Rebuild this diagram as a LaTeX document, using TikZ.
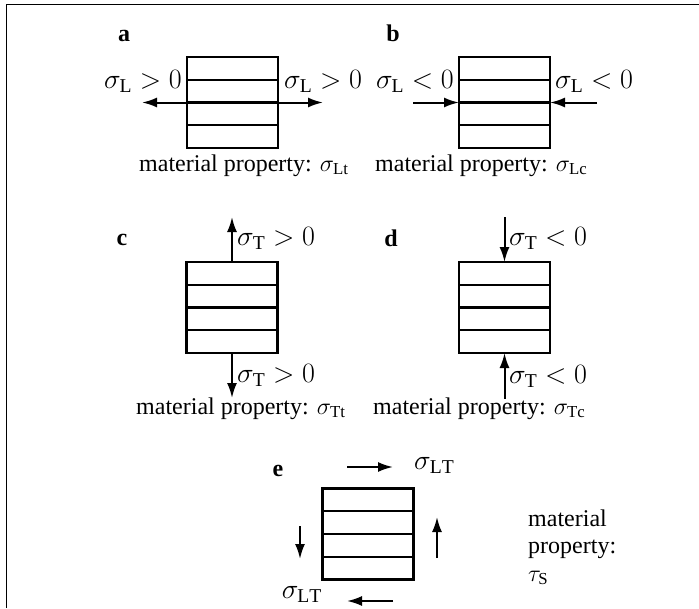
\RequirePackage{fix-cm}
\documentclass[tikz,border=0pt]{standalone}
\usepackage{fontspec}
\setmainfont{Liberation Serif}
\usetikzlibrary{arrows.meta,calc}

\tikzset{
	layers/.style = {draw, line width = 2.2pt, minimum width = 91pt, minimum height = 91pt, inner sep = 0pt, outer sep = 0pt},
	rule/.style = {line width = 2.2pt},
	load/.style = {line width = 2pt},
	>={Latex[length = 15pt, width = 10pt]},
	tag/.style = {font = \fontsize{24}{28}\selectfont\bfseries, inner sep = 0pt},
	txt/.style = {font = \fontsize{24}{28}\selectfont, inner sep = 0pt},
	lbl/.style = {font = \fontsize{28}{32}\selectfont, inner sep = 0pt},
}

\begin{document}
\begin{tikzpicture} [x = 1pt, y = -1pt]
	\useasboundingbox (0,0) rectangle (699,608);
	\draw [line width = 1pt] (6,608) -- (6,4) -- (699,4);
	% the five laminates
	\node [layers] (boxa) at (232.5,102.5) {};
	\node [layers] (boxb) at (504.5,102.5) {};
	\node [layers] (boxc) at (232,307.5) {};
	\node [layers] (boxd) at (504.5,307.5) {};
	\node [layers] (boxe) at (368,534) {};
	\foreach \b in {boxa,boxb,boxc,boxd,boxe}
		\foreach \f in {0.25,0.5,0.75}
			\draw [rule] ($(\b.north west)!\f!(\b.south west)$) -- ($(\b.north east)!\f!(\b.south east)$);
	% a
	\node [tag, anchor = base] (taga) at (124,41) {a};
	\draw [load, <->] ([xshift = -45pt]boxa.west) -- ([xshift = 45pt]boxa.east);
	\node [lbl, anchor = base east] (sla1) at (182,88) {$\sigma_{\mathrm{L}} > 0$};
	\node [lbl, anchor = base west] (sla2) at (284,88) {$\sigma_{\mathrm{L}} > 0$};
	\node [txt, anchor = base west] (mpa) at (139,171) {material property: $\sigma_{\mathrm{Lt}}$};
	% b
	\node [tag, anchor = base] (tagb) at (393,41) {b};
	\draw [load, ->] ([xshift = -46pt]boxb.west) -- (boxb.west);
	\draw [load, ->] ([xshift = 47pt]boxb.east) -- (boxb.east);
	\node [lbl, anchor = base east] (slb1) at (454,88) {$\sigma_{\mathrm{L}} < 0$};
	\node [lbl, anchor = base west] (slb2) at (555,88) {$\sigma_{\mathrm{L}} < 0$};
	\node [txt, anchor = base west] (mpb) at (375,171) {material property: $\sigma_{\mathrm{Lc}}$};
	% c
	\node [tag, anchor = base] (tagc) at (122,245) {c};
	\draw [load, ->] (boxc.north) -- ++(0,-45);
	\draw [load, ->] (boxc.south) -- ++(0,45);
	\node [lbl, anchor = base west] (stc1) at (237,245) {$\sigma_{\mathrm{T}} > 0$};
	\node [lbl, anchor = base west] (stc2) at (237,382) {$\sigma_{\mathrm{T}} > 0$};
	\node [txt, anchor = base west] (mpc) at (136,414) {material property: $\sigma_{\mathrm{Tt}}$};
	% d
	\node [tag, anchor = base] (tagd) at (391,246) {d};
	\draw [load, <-] (boxd.north) -- ++(0,-45);
	\draw [load, <-] (boxd.south) -- ++(0,46);
	\node [lbl, anchor = base west] (std1) at (509,245) {$\sigma_{\mathrm{T}} < 0$};
	\node [lbl, anchor = base west] (std2) at (509,383) {$\sigma_{\mathrm{T}} < 0$};
	\node [txt, anchor = base west] (mpd) at (373,414) {material property: $\sigma_{\mathrm{Tc}}$};
	% e
	\node [tag, anchor = base] (tage) at (278,476) {e};
	\coordinate (e1) at (347,467);
	\coordinate (e2) at (393,467);
	\coordinate (e3) at (393,601);
	\coordinate (e4) at (347,601);
	\coordinate (e5) at (300,526);
	\coordinate (e6) at (300,559);
	\coordinate (e7) at (437,558);
	\coordinate (e8) at (437,517);
	\draw [load, ->] (e1) -- (e2);
	\draw [load, ->] (e3) -- (e4);
	\draw [load, ->] (e5) -- (e6);
	\draw [load, ->] (e7) -- (e8);
	\node [lbl, anchor = base west] (slt1) at (414,469) {$\sigma_{\mathrm{LT}}$};
	\node [lbl, anchor = base east] (slt2) at (322,598) {$\sigma_{\mathrm{LT}}$};
	\node [txt, anchor = base west] (mpe1) at (528,526) {material};
	\node [txt, anchor = base west] (mpe2) at (528,553) {property:};
	\node [txt, anchor = base west] (mpe3) at (528,581) {$\tau_{\mathrm{S}}$};
\end{tikzpicture}
\end{document}
